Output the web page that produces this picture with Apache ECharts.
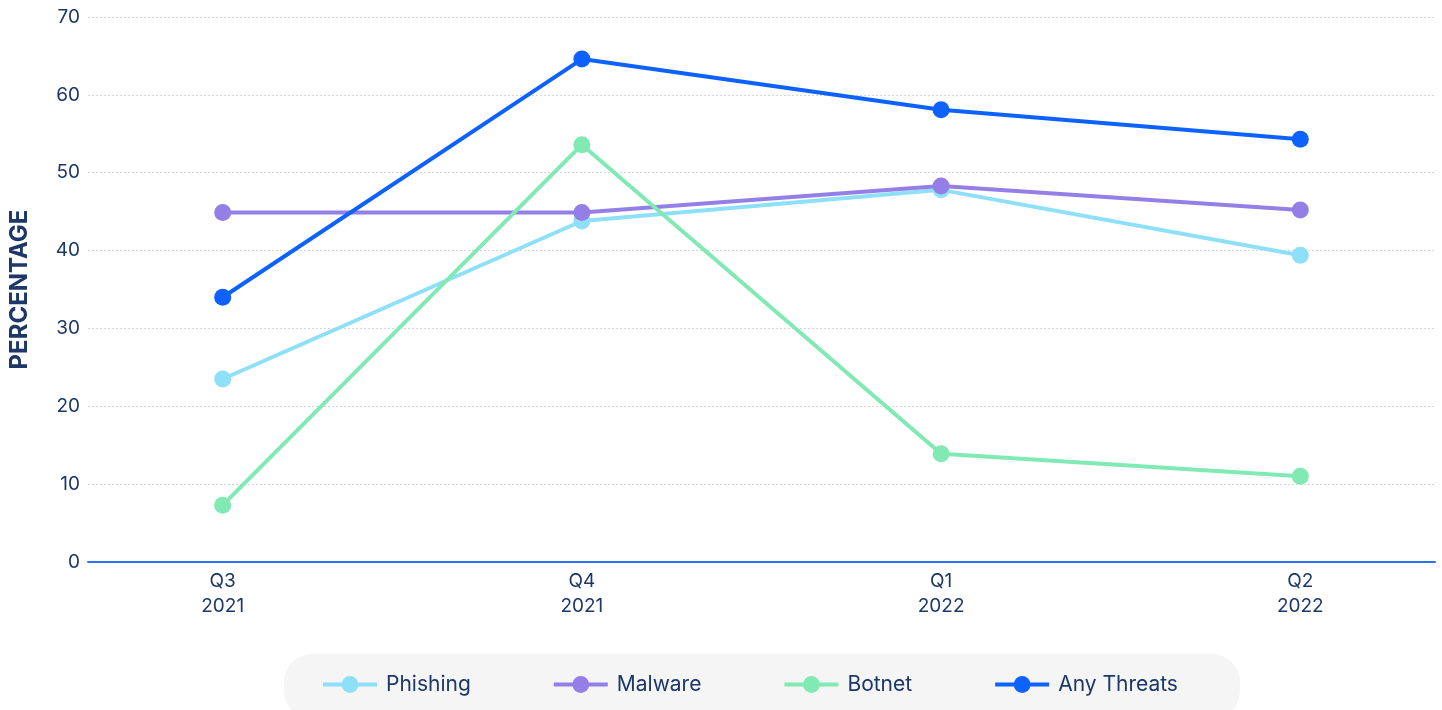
<!DOCTYPE html>
<html>
<head>
<meta charset="utf-8">
<script src="https://cdn.jsdelivr.net/npm/echarts@6/dist/echarts.min.js"></script>
<style>
html,body{margin:0;padding:0;background:#fff;}
#chart{width:1442px;height:710px;}
</style>
</head>
<body>
<div id="chart"></div>
<script>
const categories = ['Q3\n2021', 'Q4\n2021', 'Q1\n2022', 'Q2\n2022'];
const phishing = [23.5, 43.8, 47.8, 39.4];
const malware = [44.9, 44.9, 48.3, 45.2];
const botnet = [7.3, 53.6, 13.9, 11.0];
const anyThreats = [34.0, 64.6, 58.1, 54.3];
const yTicks = [0, 10, 20, 30, 40, 50, 60, 70];

const seriesDefs = [
  { name: 'Phishing', data: phishing, color: '#8de0f8' },
  { name: 'Malware', data: malware, color: '#947fe6' },
  { name: 'Botnet', data: botnet, color: '#80e9b4' },
  { name: 'Any Threats', data: anyThreats, color: '#0d62fd' }
];

const textColor = '#1c3768';
const font = 'Inter, "Open Sans", sans-serif';

const chart = echarts.init(document.getElementById('chart'));
chart.setOption({
  animation: false,
  grid: { left: 88, right: 7, top: 17, bottom: 148, outerBoundsMode: 'none', containLabel: false },
  xAxis: {
    type: 'value',
    min: -0.375,
    max: 3.375,
    axisLine: { show: true, lineStyle: { color: '#2a72f2', width: 2 } },
    axisTick: { show: false },
    splitLine: { show: false },
    axisLabel: {
      customValues: [0, 1, 2, 3],
      formatter: function (v) { return categories[Math.round(v)] || ''; },
      color: textColor,
      fontFamily: font,
      fontSize: 19,
      lineHeight: 25,
      margin: 7
    }
  },
  yAxis: {
    type: 'value',
    min: 0,
    max: 70,
    interval: 10,
    name: 'PERCENTAGE',
    nameLocation: 'middle',
    nameRotate: 90,
    nameGap: 56,
    nameTextStyle: { color: textColor, fontFamily: font, fontSize: 24, fontWeight: 'bold' },
    axisLine: { show: false },
    axisTick: { show: false },
    axisLabel: {
      color: textColor, fontFamily: font, fontSize: 19, margin: 8,
      customValues: yTicks
    },
    splitLine: { show: true, lineStyle: { color: '#d6d6d6', type: [2, 2], width: 1 } }
  },
  legend: {
    bottom: -9,
    left: 284,
    backgroundColor: '#f5f5f5',
    borderRadius: 28,
    padding: [20, 62, 24, 37],
    itemWidth: 54,
    itemHeight: 21,
    itemGap: 81,
    lineStyle: { width: 4 },
    textStyle: { color: textColor, fontFamily: font, fontSize: 21, padding: [0, 0, 0, 4] },
    data: seriesDefs.map(s => s.name)
  },
  series: seriesDefs.map(s => ({
    name: s.name,
    type: 'line',
    data: s.data.map((v, i) => [i, v]),
    symbol: 'circle',
    symbolSize: 17,
    lineStyle: { width: 4, color: s.color },
    itemStyle: { color: s.color },
    z: 2
  }))
});
</script>
</body>
</html>
